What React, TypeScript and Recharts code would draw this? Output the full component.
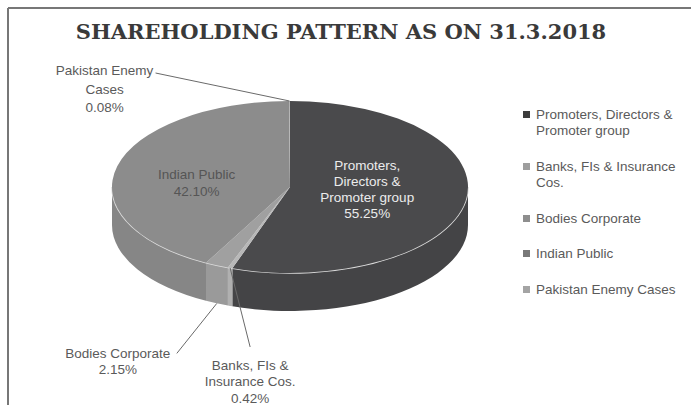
import React from 'react';
import { PieChart, Pie, Legend } from 'recharts';

// ---------- data ----------
const CATEGORIES = [
  'Promoters, Directors & Promoter group',
  'Banks, FIs & Insurance Cos.',
  'Bodies Corporate',
  'Indian Public',
  'Pakistan Enemy Cases',
];
const VALUES = [55.25, 0.42, 2.15, 42.1, 0.08];
const LABEL_LINES = [
  ['Promoters,', 'Directors &', 'Promoter group'],
  ['Banks, FIs &', 'Insurance Cos.'],
  ['Bodies Corporate'],
  ['Indian Public'],
  ['Pakistan Enemy', 'Cases'],
];
const TITLE = 'SHAREHOLDING PATTERN AS ON 31.3.2018';

// ---------- styles ----------
const TOP_COLORS = ['#4a4a4c', '#b8b8b8', '#a0a0a0', '#8c8c8c', '#a8a8a8'];
const SIDE_COLORS = ['#444446', '#b0b0b0', '#9a9a9a', '#868686', '#a0a0a0'];
const LEGEND_COLORS = ['#3c3c3c', '#9e9e9e', '#8e8e8e', '#787878', '#a4a4a4'];
const FONT = '"Liberation Sans", Arial, sans-serif';
const FONT_SIZE = 13.5;

const W = 691;
const H = 405;
const CX = 290;
const CY = 187;
const RADIUS = 178;
const TILT = 86 / 178;
const DEPTH = 38;

// label placement (relative to slice anchors computed from the pie geometry)
type LabelLayout =
  | { kind: 'inside'; f: number; dx: number; dy: number; color: string; lh: number }
  | {
      kind: 'outside';
      onBase: boolean;
      lx: number;
      ly: number;
      tx: number;
      ty: number;
      color: string;
      lh: number;
    };
const LABEL_LAYOUT: LabelLayout[] = [
  { kind: 'inside', f: 0.44, dx: 0, dy: -4, color: '#ececec', lh: 16 },
  { kind: 'outside', onBase: false, lx: 20, ly: 79, tx: 20, ty: 97, color: '#5a5a5a', lh: 16.5 },
  { kind: 'outside', onBase: true, lx: -40, ly: 50, tx: -99, ty: 50, color: '#5a5a5a', lh: 15.5 },
  { kind: 'inside', f: 0.54, dx: 0, dy: 7, color: '#555555', lh: 16.5 },
  { kind: 'outside', onBase: false, lx: -134, ly: -28, tx: -185, ty: -30.5, color: '#5a5a5a', lh: 18.5 },
];

const data = CATEGORIES.map((name, i) => ({ name, value: VALUES[i] }));

const pt = (cx: number, cy: number, rx: number, ry: number, a: number): [number, number] => {
  const r = (a * Math.PI) / 180;
  return [cx + rx * Math.cos(r), cy - ry * Math.sin(r)];
};

// Draws each slice as a tilted (elliptical) 3D slice from the angles Recharts computed
const SliceShape = (props: any) => {
  const { cx, cy, outerRadius, startAngle, endAngle, index } = props;
  const rx = outerRadius;
  const ry = outerRadius * TILT;
  const s = Math.max(startAngle, endAngle);
  const e = Math.min(startAngle, endAngle);
  const [x1, y1] = pt(cx, cy, rx, ry, s);
  const [x2, y2] = pt(cx, cy, rx, ry, e);
  const large = s - e > 180 ? 1 : 0;
  const top = `M${cx},${cy} L${x1},${y1} A${rx},${ry} 0 ${large} 1 ${x2},${y2} Z`;

  const hi = Math.min(s, 0);
  const lo = Math.max(e, -180);
  let side: React.ReactNode = null;
  if (hi > lo) {
    const [a1, b1] = pt(cx, cy, rx, ry, hi);
    const [a2, b2] = pt(cx, cy, rx, ry, lo);
    const d = `M${a1},${b1} A${rx},${ry} 0 0 1 ${a2},${b2} L${a2},${b2 + DEPTH} A${rx},${ry} 0 0 0 ${a1},${b1 + DEPTH} Z`;
    const rim = `M${a1},${b1} A${rx},${ry} 0 0 1 ${a2},${b2}`;
    side = (
      <g>
        <path d={d} fill={SIDE_COLORS[index]} stroke="none" />
        <path d={rim} fill="none" stroke="#dcdcdc" strokeWidth={1.5} />
      </g>
    );
  }
  return (
    <g key={`slice-${index}`}>
      {side}
      <path d={top} fill={TOP_COLORS[index]} stroke="none" />
    </g>
  );
};

const SliceLabel = (props: any) => {
  const { cx, cy, outerRadius, midAngle, index, value } = props;
  const rx = outerRadius;
  const ry = outerRadius * TILT;
  const layout = LABEL_LAYOUT[index];
  const lines = [...LABEL_LINES[index], `${Number(value).toFixed(2)}%`];
  let textX: number;
  let firstY: number;
  let leader: React.ReactNode = null;
  if (layout.kind === 'inside') {
    const [px, py] = pt(cx, cy, rx * layout.f, ry * layout.f, midAngle);
    textX = px + layout.dx;
    firstY = py + layout.dy - ((lines.length - 1) * layout.lh) / 2;
  } else {
    const [px, py0] = pt(cx, cy, rx, ry, midAngle);
    const py = py0 + (layout.onBase ? DEPTH : 0);
    textX = px + layout.tx;
    firstY = py + layout.ty;
    leader = (
      <line x1={px} y1={py} x2={px + layout.lx} y2={py + layout.ly} stroke="#6a6a6a" strokeWidth={1} />
    );
  }
  return (
    <g key={`label-${index}`}>
      {leader}
      <text textAnchor="middle" fontFamily={FONT} fontSize={FONT_SIZE} fill={layout.color}>
        {lines.map((l, k) => (
          <tspan key={k} x={textX} y={firstY + k * layout.lh + FONT_SIZE * 0.35}>
            {l}
          </tspan>
        ))}
      </text>
    </g>
  );
};

const renderLegend = (props: any) => {
  const seen = new Set<string>();
  let items: { value: string }[] = (props.payload || []).filter((p: any) => {
    if (!CATEGORIES.includes(p.value) || seen.has(p.value)) return false;
    seen.add(p.value);
    return true;
  });
  if (items.length === 0) items = CATEGORIES.map((c) => ({ value: c }));
  items = [...items].sort((a, b) => CATEGORIES.indexOf(a.value) - CATEGORIES.indexOf(b.value));
  return (
    <div style={{ fontFamily: FONT, fontSize: FONT_SIZE, color: '#5a5a5a', lineHeight: '16.5px' }}>
      {items.map((p) => {
        const i = CATEGORIES.indexOf(p.value);
        return (
          <div key={p.value} style={{ display: 'flex', marginBottom: 19 }}>
            <span
              style={{
                width: 7,
                height: 7,
                background: LEGEND_COLORS[i],
                marginTop: 4,
                marginRight: 6,
                flex: 'none',
              }}
            />
            <span style={{ width: 150 }}>{p.value}</span>
          </div>
        );
      })}
    </div>
  );
};

export default function App() {
  return (
    <div style={{ position: 'absolute', left: 0, top: 0, width: W, height: H, background: '#fff', overflow: 'hidden' }}>
      <PieChart width={W} height={H} margin={{ top: 0, right: 0, bottom: 0, left: 0 }}>
        <Pie
          data={data}
          dataKey="value"
          nameKey="name"
          cx={CX}
          cy={CY}
          innerRadius={0}
          outerRadius={RADIUS}
          startAngle={90}
          endAngle={-270}
          fill="transparent"
          stroke="none"
          isAnimationActive={false}
          label={SliceShape}
          labelLine={false}
        />
        <Pie
          data={data}
          dataKey="value"
          nameKey="name"
          cx={CX}
          cy={CY}
          innerRadius={0}
          outerRadius={RADIUS}
          startAngle={90}
          endAngle={-270}
          fill="transparent"
          stroke="none"
          legendType="none"
          isAnimationActive={false}
          label={SliceLabel}
          labelLine={false}
        />
        <Legend
          layout="vertical"
          align="right"
          verticalAlign="top"
          content={renderLegend}
          wrapperStyle={{ position: 'absolute', left: 523, top: 106.75, right: 'auto', bottom: 'auto', width: 165 }}
        />
      </PieChart>
      <svg width={W} height={H} style={{ position: 'absolute', left: 0, top: 0, pointerEvents: 'none' }}>
        <line x1={8} y1={8} x2={W} y2={8} stroke="#777" strokeWidth={2} />
        <line x1={8} y1={8} x2={8} y2={H} stroke="#777" strokeWidth={2} />
        <text
          x={341}
          y={39}
          textAnchor="middle"
          fontFamily='"DejaVu Serif", serif'
          fontWeight="bold"
          fontSize={21}
          fill="#3a3a3a"
        >
          {TITLE}
        </text>
      </svg>
    </div>
  );
}
